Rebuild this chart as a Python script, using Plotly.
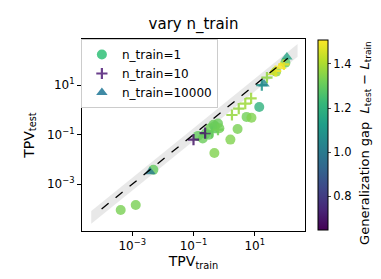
import plotly.graph_objects as go

# ---- data ----
n1_x = [4.2e-4, 1.3e-3, 4.9e-3, 0.14, 0.2, 0.25, 0.35, 0.5, 0.63, 0.7, 0.32, 0.45,
        0.48, 1.6, 2.75, 5.4, 7.8, 14, 50, 100]
n1_y = [9.1e-5, 1.45e-4, 3.8e-3, 0.089, 0.07, 0.11, 0.18, 0.22, 0.28, 0.18, 0.1, 0.25,
        0.018, 0.063, 0.17, 0.52, 0.48, 1.3, 35, 80]
n1_gap = [1.33, 1.33, 1.3, 1.3, 1.31, 1.3, 1.32, 1.3, 1.31, 1.32, 1.3, 1.31,
          1.34, 1.34, 1.33, 1.32, 1.34, 1.2, 1.36, 1.3]

n10_x = [0.1, 0.24, 0.4, 0.63, 1.8, 3.0, 4.9, 7.6, 17, 25, 48, 89]
n10_y = [0.063, 0.115, 0.126, 0.16, 0.62, 1.12, 1.8, 2.9, 10, 20, 37, 68]
n10_gap = [0.7, 0.7, 1.3, 1.32, 1.37, 1.37, 1.38, 1.38, 1.1, 1.36, 1.5, 1.48]

n10000_x = [3.8e-3, 20, 40, 71, 112]
n10000_y = [3.2e-3, 11, 32, 56, 135]
n10000_gap = [1.0, 1.05, 1.45, 1.5, 1.15]

x_ticks = [1e-3, 1e-1, 1e1]
x_tick_labels = ["10<sup>−3</sup>", "10<sup>−1</sup>", "10<sup>1</sup>"]
y_ticks = [1e-3, 1e-1, 1e1]
y_tick_labels = ["10<sup>−3</sup>", "10<sup>−1</sup>", "10<sup>1</sup>"]
cb_ticks = [0.8, 1.0, 1.2, 1.4]
cb_tick_labels = ["0.8", "1.0", "1.2", "1.4"]

ref_x = [1e-4, 1.2e2]
band_x = [4.6e-5, 2.5e2]
band_factor = 1.8

gap_min, gap_max = 0.648, 1.508

font = "DejaVu Sans"
fig = go.Figure()

# band
fig.add_trace(go.Scatter(x=band_x, y=[v / band_factor for v in band_x], mode="lines",
                         line=dict(width=0), showlegend=False, hoverinfo="skip"))
fig.add_trace(go.Scatter(x=band_x, y=[v * band_factor for v in band_x], mode="lines",
                         line=dict(width=0), fill="tonexty",
                         fillcolor="rgba(190,190,190,0.35)", showlegend=False, hoverinfo="skip"))

series = [
    ("n_train=1", n1_x, n1_y, n1_gap, "circle", 10, "#4fc98c"),
    ("n_train=10", n10_x, n10_y, n10_gap, "cross-thin", 8, "#6a3f8c"),
    ("n_train=10000", n10000_x, n10000_y, n10000_gap, "triangle-up", 10, "#3f8aa5"),
]
for name, xs, ys, gs, sym, sz, lc in series:
    if sym == "cross-thin":
        mk = dict(symbol=sym, size=sz, opacity=0.85,
                  line=dict(width=2.2, color=gs, coloraxis="coloraxis"))
    else:
        mk = dict(symbol=sym, size=sz, color=gs, coloraxis="coloraxis",
                  opacity=0.8, line=dict(width=0))
    fig.add_trace(go.Scatter(x=xs, y=ys, mode="markers", showlegend=False, marker=mk))
for name, xs, ys, gs, sym, sz, lc in series:
    if sym == "cross-thin":
        mk = dict(symbol=sym, size=sz, line=dict(width=2.2, color=lc))
    else:
        mk = dict(symbol=sym, size=sz, color=lc, line=dict(width=0))
    fig.add_trace(go.Scatter(x=[None], y=[None], mode="markers", name=name, marker=mk))

# y = x reference line
fig.add_trace(go.Scatter(x=ref_x, y=ref_x, mode="lines", showlegend=False,
                         line=dict(color="black", width=1.3, dash="dash")))

axis_common = dict(type="log", showgrid=False,
                   zeroline=False, showline=True, linecolor="black", linewidth=1,
                   mirror=True, ticks="outside", ticklen=4, tickcolor="black",
                   tickfont=dict(family=font, size=12, color="black"))

fig.update_layout(
    width=381, height=279,
    margin=dict(l=74, r=84, t=31, b=56),
    plot_bgcolor="white", paper_bgcolor="white",
    font=dict(family=font, color="black"),
    title=dict(text="vary n_train", x=(74 + 111.5) / 381, xanchor="center",
               y=1 - 16 / 279, yanchor="middle", font=dict(family=font, size=15)),
    xaxis=dict(range=[-4.64, 2.64], tickvals=x_ticks, ticktext=x_tick_labels,
               title=dict(text="TPV<sub>train</sub>", font=dict(family=font, size=14), standoff=1),
               **axis_common),
    yaxis=dict(range=[-4.89, 2.86], tickvals=y_ticks, ticktext=y_tick_labels,
               title=dict(text="TPV<sub>test</sub>", font=dict(family=font, size=14), standoff=9),
               **axis_common),
    coloraxis=dict(cmin=gap_min, cmax=gap_max, colorscale="Viridis",
                   colorbar=dict(x=1.058, xanchor="left", xpad=0, ypad=0, y=0.5, yanchor="middle",
                                 len=190, lenmode="pixels", thickness=10,
                                 outlinecolor="black", outlinewidth=1,
                                 tickvals=cb_ticks, ticktext=cb_tick_labels,
                                 ticks="outside", ticklen=3,
                                 tickfont=dict(family=font, size=11.5), title=dict(text=""))),
    legend=dict(x=-0.005, y=1.0, xanchor="left", yanchor="top", traceorder="normal",
                bgcolor="rgba(255,255,255,0.8)", bordercolor="#cccccc", borderwidth=1,
                font=dict(family=font, size=12), itemsizing="trace",
                tracegroupgap=0, itemwidth=30),
)

fig.add_annotation(text="Generalization gap  <i>L</i><sub>test</sub> − <i>L</i><sub>train</sub>",
                   xref="paper", yref="paper", x=1.27, y=0.46, textangle=-90,
                   showarrow=False, xanchor="center", yanchor="middle",
                   font=dict(family=font, size=13, color="black"))

fig.write_html("out.html")
